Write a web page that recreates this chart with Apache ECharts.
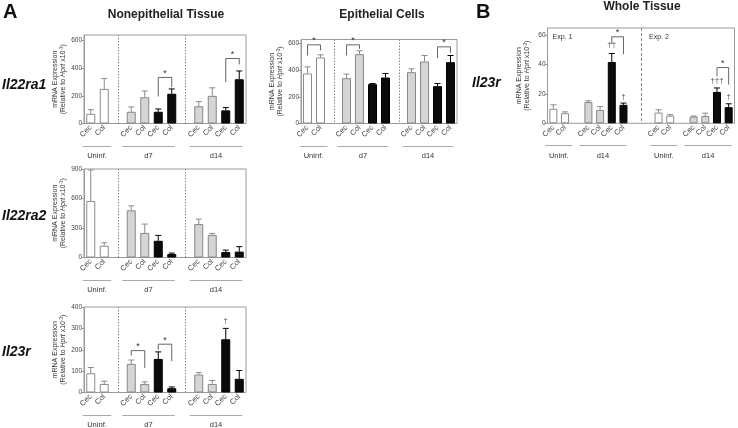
<!DOCTYPE html>
<html><head><meta charset="utf-8">
<script src="https://cdn.jsdelivr.net/npm/echarts@6/dist/echarts.min.js"></script>
<style>html,body{margin:0;padding:0;background:#fff}#c{width:738px;height:428px}</style>
</head><body><div id="c"></div>
<script>
// ---- categories / groups ----
const catsA = ['Cec','Col','','Cec','Col','Cec','Col','','Cec','Col','Cec','Col'];
const catsB = ['Cec','Col','','Cec','Col','Cec','Col','','','Cec','Col','','Cec','Col','Cec','Col'];
const fillA = ['w','w',null,'g','g','k','k',null,'g','g','k','k'];
const fillB = ['w','w',null,'g','g','k','k',null,null,'w','w',null,'g','g','k','k'];
const groupsA = [['Uninf.',0,1],['d7',3,6],['d14',8,11]];
const groupsB = [['Uninf.',0,1],['d14',3,6],['Uninf.',9,10],['d14',12,15]];

// ---- values (null = spacer slot) ----
const ne22ra1Mean = [70,250,null,85,190,85,215,null,125,200,95,320];
const ne22ra1Err  = [100,325,null,120,235,105,250,null,158,258,115,380];
const ep22ra1Mean = [375,495,null,340,520,295,345,null,385,465,280,460];
const ep22ra1Err  = [425,515,null,370,545,300,375,null,410,510,300,510];
const wtMean = [9.9,6.9,null,14.5,9.2,41.8,12.6,null,null,7.3,5.2,null,4.6,5.0,21.4,11.0];
const wtErr  = [12.6,7.8,null,15.4,11.4,47.6,13.8,null,null,9.2,5.9,null,5.0,6.9,24.1,13.3];
const ne22ra2Mean = [575,120,null,480,250,170,35,null,340,230,55,60];
const ne22ra2Err  = [890,150,null,525,340,225,45,null,390,245,75,110];
const ne23rMean = [90,40,null,134,40,157,20,null,84,40,249,64];
const ne23rErr  = [117,53,null,152,50,190,26,null,93,56,300,103];

// ---- significance brackets: [fromIdx, toIdx, topValue, leftLegEnd, rightLegEnd] ----
const ne22ra1Brk = [[5,6,333,195,262],[10,11,470,300,427]];
const ep22ra1Brk = [[0,1,590,510,548],[3,4,590,510,560],[10,11,575,490,530]];
const wtBrk = [[5,6,59,54,47],[14,15,38,32,26.4]];
const ne22ra2Brk = [];
const ne23rBrk = [[3,4,196,173,115],[5,6,226,200,146]];
// daggers: [idx, value, text]
const wtDag = [[5,50.5,'††'],[6,15.5,'†'],[14,26.5,'†††'],[15,15.5,'†']];
const ne23rDag = [[10,318,'†']];

const FONT = 'Liberation Sans, Arial, Helvetica, sans-serif';
const barStyles = {
  w:{color:'#ffffff', borderColor:'#8c8c8c', borderWidth:1},
  g:{color:'#d5d5d5', borderColor:'#878787', borderWidth:1},
  k:{color:'#0b0b0b', borderColor:'#000000', borderWidth:1}
};

const panels = [
  {cats:catsA, fill:fillA, mean:ne22ra1Mean, err:ne22ra1Err, brk:ne22ra1Brk, dag:[], left:84, top:35, width:162, height:88.5, max:640, interval:200, groups:groupsA, divs:[[2,2],[7,7]], dash:[1.5,1.5], barW:9},
  {cats:catsA, fill:fillA, mean:ep22ra1Mean, err:ep22ra1Err, brk:ep22ra1Brk, dag:[], left:301, top:39.5, width:156, height:84, max:630, interval:200, groups:groupsA, divs:[[2,2],[7,7]], dash:[1.5,1.5], barW:9},
  {cats:catsB, fill:fillB, mean:wtMean, err:wtErr, brk:wtBrk, dag:wtDag, left:547.5, top:28, width:187, height:95.3, max:65, interval:20, groups:groupsB, divs:[[7,8]], dash:[3,2], barW:8, exp:true},
  {cats:catsA, fill:fillA, mean:ne22ra2Mean, err:ne22ra2Err, brk:ne22ra2Brk, dag:[], left:84, top:169, width:162, height:88.5, max:900, interval:300, groups:groupsA, divs:[[2,2],[7,7]], dash:[1.5,1.5], barW:9},
  {cats:catsA, fill:fillA, mean:ne23rMean, err:ne23rErr, brk:ne23rBrk, dag:ne23rDag, left:84, top:307, width:162, height:85.5, max:400, interval:100, groups:groupsA, divs:[[2,2],[7,7]], dash:[1.5,1.5], barW:9}
];

function errRender(params, api){
  const x = api.value(0), v = api.value(1), e = api.value(2), dark = api.value(3);
  const p0 = api.coord([x, v]), p1 = api.coord([x, e]);
  const c = dark ? '#000' : '#8a8a8a';
  const hw = 3;
  return {type:'group', children:[
    {type:'line', shape:{x1:p0[0], y1:p0[1], x2:p1[0], y2:p1[1]}, style:{stroke:c, lineWidth:1}},
    {type:'line', shape:{x1:p0[0]-hw, y1:p1[1], x2:p0[0]+hw, y2:p1[1]}, style:{stroke:c, lineWidth:1}}
  ]};
}

const grids=[], xAxes=[], yAxes=[], series=[];
const yName = '{n|mRNA Expression}\n{n|(Relative to }{i|Hprt}{n| x10}{s|-3}{n|)}';
panels.forEach((p,i)=>{
  grids.push({left:p.left, top:p.top, width:p.width, height:p.height, show:true, borderColor:'#9a9a9a', borderWidth:1});
  xAxes.push({type:'category', gridIndex:i, data:p.cats, boundaryGap:true,
    axisLine:{show:false}, axisTick:{show:false},
    axisLabel:{rotate:45, fontSize:7.5, color:'#444', margin:3, interval:0, fontFamily:FONT}});
  yAxes.push({type:'value', gridIndex:i, min:0, max:p.max, interval:p.interval,
    axisLine:{show:true, lineStyle:{color:'#9a9a9a'}},
    axisTick:{show:true, length:2.5, lineStyle:{color:'#9a9a9a'}},
    splitLine:{show:false},
    axisLabel:{fontSize:6.5, color:'#444', margin:2, fontFamily:FONT, showMaxLabel: p.max % p.interval === 0},
    name:yName, nameLocation:'middle', nameGap:16, nameRotate:90,
    nameTextStyle:{fontFamily:FONT, color:'#333', fontSize:7, lineHeight:8,
      rich:{n:{fontSize:7, color:'#333', fontFamily:FONT, lineHeight:8},
            i:{fontSize:7, color:'#333', fontStyle:'italic', fontFamily:FONT, lineHeight:8},
            s:{fontSize:4.5, color:'#333', fontFamily:FONT, verticalAlign:'top', lineHeight:8}}}});
  series.push({type:'bar', xAxisIndex:i, yAxisIndex:i, barWidth:p.barW, silent:true,
    data:p.mean.map((v,k)=> v==null ? '-' : {value:v, itemStyle:barStyles[p.fill[k]]})});
  const ed = [];
  p.mean.forEach((v,k)=>{ if(v!=null) ed.push([k, v, p.err[k], p.fill[k]==='k'?1:0]); });
  series.push({type:'custom', xAxisIndex:i, yAxisIndex:i, renderItem:errRender, data:ed, silent:true, z:1,
    encode:{x:0, y:1}});
  p.brk.forEach(b=>{
    series.push({type:'line', xAxisIndex:i, yAxisIndex:i, symbol:'none', silent:true,
      lineStyle:{color:'#666', width:1},
      data:[[b[0],b[3]],[b[0],b[2]],[b[1],b[2]],[b[1],b[4]]]});
  });
  if (p.dag.length) {
    series.push({type:'scatter', xAxisIndex:i, yAxisIndex:i, symbolSize:0, silent:true,
      data:p.dag.map(d=>({value:[d[0], d[1]], label:{show:true, formatter:d[2], position:'top', distance:0, fontSize:8, color:'#222', fontFamily:FONT}}))});
  }
});

const chart = echarts.init(document.getElementById('c'), null, {renderer:'canvas'});
chart.setOption({animation:false, textStyle:{fontFamily:FONT}, grid:grids, xAxis:xAxes, yAxis:yAxes, series:series});

// annotation graphics located through the axes
const g = [];
function txt(x,y,t,opt){ g.push({type:'text', x:x, y:y, silent:true, style:Object.assign({text:t, fill:'#222', font:'7px '+FONT, textAlign:'center', textVerticalAlign:'middle'}, opt||{})}); }
panels.forEach((p,i)=>{
  const px = (x,y)=> chart.convertToPixel({gridIndex:i}, [x,y]);
  const zeroY = px(0,0)[1], topY = px(0,p.max)[1];
  p.divs.forEach(d=>{
    const x = Math.round((px(d[0],0)[0] + px(d[1],0)[0])/2) + 0.5;
    g.push({type:'line', silent:true, shape:{x1:x, y1:topY, x2:x, y2:zeroY}, style:{stroke:'#8a8a8a', lineWidth:1, lineDash:p.dash}});
  });
  p.groups.forEach(gr=>{
    const a = px(gr[1],0)[0], b = px(gr[2],0)[0];
    const two = gr[2]-gr[1] === 1;
    const x1 = a - (two?8:9), x2 = b + (two?7:3);
    const y = Math.round(zeroY + 22) + 0.5;
    g.push({type:'line', silent:true, shape:{x1:x1, y1:y, x2:x2, y2:y}, style:{stroke:'#aaaaaa', lineWidth:1}});
    txt((x1+x2)/2, zeroY + 32.5, gr[0], {font:'7.5px '+FONT, fill:'#333'});
  });
  p.brk.forEach(b=>{
    const x = (px(b[0],0)[0] + px(b[1],0)[0])/2;
    const y = px(b[0], b[2])[1];
    txt(x, y - 4, '*', {font:'9px '+FONT, fill:'#333'});
  });
  if (p.exp) {
    txt(p.left + 5, p.top + 9, 'Exp. 1', {textAlign:'left', fill:'#333'});
    const xd = (px(7,0)[0] + px(8,0)[0])/2;
    txt(xd + 8, p.top + 9, 'Exp. 2', {textAlign:'left', fill:'#333'});
  }
});
// panel letters, titles, row labels
txt(3, 12, 'A', {textAlign:'left', font:'bold 20px '+FONT, fill:'#111'});
txt(476, 12, 'B', {textAlign:'left', font:'bold 20px '+FONT, fill:'#111'});
txt(166, 15, 'Nonepithelial Tissue', {font:'bold 12px '+FONT, fill:'#222'});
txt(382, 15, 'Epithelial Cells', {font:'bold 12px '+FONT, fill:'#222'});
txt(642, 7, 'Whole Tissue', {font:'bold 12px '+FONT, fill:'#222'});
txt(2, 85, 'Il22ra1', {textAlign:'left', font:'italic bold 14px '+FONT, fill:'#111'});
txt(2, 216, 'Il22ra2', {textAlign:'left', font:'italic bold 14px '+FONT, fill:'#111'});
txt(2, 352, 'Il23r', {textAlign:'left', font:'italic bold 14px '+FONT, fill:'#111'});
txt(472, 83, 'Il23r', {textAlign:'left', font:'italic bold 14px '+FONT, fill:'#111'});
chart.setOption({graphic:g});
</script>
</body></html>
